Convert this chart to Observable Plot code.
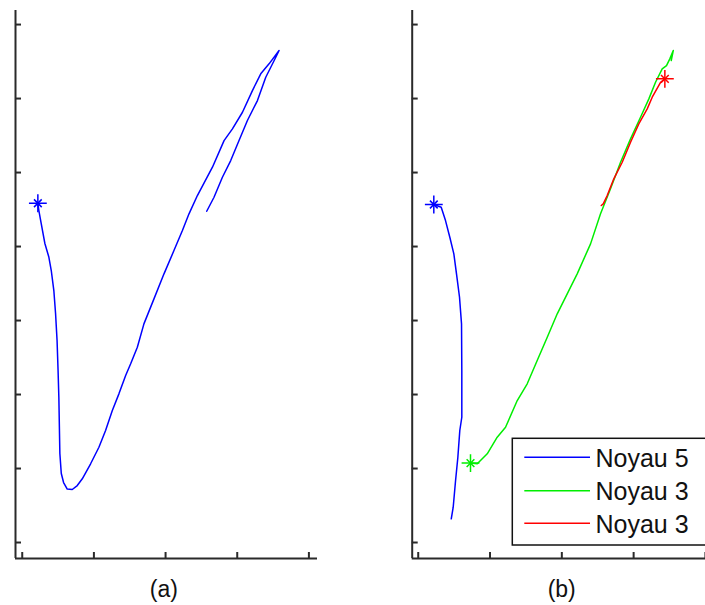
<!DOCTYPE html>
<html>
<head>
<meta charset="utf-8">
<script src="https://cdn.jsdelivr.net/npm/d3@7"></script>
<script src="https://cdn.jsdelivr.net/npm/@observablehq/plot@0.6"></script>
<style>
  html, body { margin: 0; padding: 0; background: #fff; }
  body { width: 705px; height: 605px; overflow: hidden; position: relative; font-family: "Liberation Sans", Arial, sans-serif; }
  .panel { position: absolute; top: 0; }
  .overlay { position: absolute; left: 0; top: 0; pointer-events: none; }
</style>
</head>
<body>
<div id="pa" class="panel" style="left:0px"></div>
<div id="pb" class="panel" style="left:395px"></div>
<script>
// ---------- data (axis-tick units; tick labels are blank in the source) ----------
const xTicks = [0, 1, 2, 3, 4];
const yTicks = [0, 1, 2, 3, 4, 5, 6, 7];
const tickLabels = [];            // axes carry no tick labels
const captions = ["(a)", "(b)"];
const legendLabels = ["Noyau 5", "Noyau 3", "Noyau 3"];
const seriesColors = ["#0000ff", "#00ee00", "#ff0000"];

// panel (a): single trajectory (Noyau 5 continuing)
const aX = [0.218,0.232,0.265,0.316,0.372,0.405,0.441,0.465,0.486,0.500,0.511,0.525,0.545,0.577,0.628,0.698,0.768,0.838,0.954,1.070,1.163,1.257,1.349,1.443,1.513,1.606,1.698,1.838,1.978,2.117,2.235,2.327,2.444,2.654,2.816,2.933,3.073,3.212,3.328,3.444,3.584,3.538,3.468,3.398,3.282,3.142,3.025,2.909,2.793,2.676,2.574];
const aY = [4.585,4.486,4.311,4.041,3.855,3.676,3.405,3.095,2.730,2.324,1.959,1.203,0.932,0.811,0.723,0.716,0.770,0.861,1.064,1.288,1.514,1.784,2.009,2.257,2.415,2.639,2.955,3.293,3.631,3.946,4.216,4.442,4.689,5.072,5.432,5.591,5.815,6.108,6.334,6.469,6.649,6.558,6.423,6.288,5.973,5.703,5.432,5.162,4.936,4.666,4.477];

// panel (b): Noyau 5 (blue)
const bBlueX = [0.217,0.320,0.380,0.440,0.496,0.533,0.575,0.603,0.607,0.607,0.579,0.552,0.520,0.487,0.460];
const bBlueY = [4.568,4.531,4.351,4.126,3.901,3.631,3.315,2.955,2.324,1.693,1.514,1.153,0.838,0.477,0.320];
// panel (b): Noyau 3 (green)
const bGreenX = [0.728,0.822,0.961,1.100,1.216,1.379,1.518,1.657,1.797,1.936,2.028,2.214,2.400,2.539,2.678,2.818,2.957,3.096,3.212,3.305,3.398,3.458,3.504,3.552,3.524];
const bGreenY = [1.074,1.064,1.199,1.423,1.558,1.919,2.145,2.459,2.774,3.091,3.270,3.631,4.036,4.442,4.780,5.139,5.455,5.747,5.996,6.220,6.401,6.446,6.536,6.649,6.514];
// panel (b): Noyau 3 (red)
const bRedX = [3.435,3.375,3.259,3.189,3.072,2.957,2.841,2.724,2.632,2.577,2.549];
const bRedY = [6.266,6.220,6.018,5.861,5.658,5.409,5.139,4.915,4.689,4.577,4.554];

// ---------- helpers ----------
const zip = (xs, ys) => xs.map((x, i) => ({x, y: ys[i]}));
const axisColor = "#2a2a2a";

function star(pt, color) {
  return [
    Plot.dot([pt], {x: "x", y: "y", symbol: "plus", r: 5.8, stroke: color, strokeWidth: 1.5}),
    Plot.dot([pt], {x: "x", y: "y", symbol: "times", r: 3.6, stroke: color, strokeWidth: 1.5})
  ];
}

function axes(xDom, yDom) {
  return [
    Plot.axisX(xTicks, {tickSize: 6, dy: -6, tickFormat: () => "", label: null, stroke: axisColor, strokeWidth: 2}),
    Plot.axisY(yTicks, {tickSize: 6, dx: 6, tickFormat: () => "", label: null, stroke: axisColor, strokeWidth: 2}),
    Plot.ruleY([yDom[0]], {stroke: axisColor, strokeWidth: 2}),
    Plot.ruleX([xDom[0]], {stroke: axisColor, strokeWidth: 2})
  ];
}

// ---------- panel (a) ----------
const xDomA = [-0.094, 4.12];
const yDom = [-0.216, 7.19];
const dataA = zip(aX, aY);
const chartA = Plot.plot({
  width: 330, height: 570,
  marginLeft: 15, marginRight: 13, marginTop: 10, marginBottom: 12,
  x: {domain: xDomA},
  y: {domain: yDom},
  style: {background: "transparent", overflow: "visible"},
  marks: [
    ...axes(xDomA, yDom),
    Plot.line(dataA, {x: "x", y: "y", stroke: seriesColors[0], strokeWidth: 1.5}),
    ...star(dataA[0], seriesColors[0])
  ]
});
document.getElementById("pa").appendChild(chartA);

// ---------- panel (b) ----------
const xDomB = [-0.084, 4.001];
const blue = zip(bBlueX, bBlueY), green = zip(bGreenX, bGreenY), red = zip(bRedX, bRedY);
const chartB = Plot.plot({
  width: 310, height: 570,
  marginLeft: 16.7, marginRight: 0, marginTop: 10, marginBottom: 12,
  x: {domain: xDomB},
  y: {domain: yDom},
  style: {background: "transparent", overflow: "visible"},
  marks: [
    ...axes(xDomB, yDom),
    Plot.line(blue, {x: "x", y: "y", stroke: seriesColors[0], strokeWidth: 1.5}),
    Plot.line(green, {x: "x", y: "y", stroke: seriesColors[1], strokeWidth: 1.5}),
    Plot.line(red, {x: "x", y: "y", stroke: seriesColors[2], strokeWidth: 1.5}),
    ...star(blue[0], seriesColors[0]),
    ...star(green[0], seriesColors[1]),
    ...star(red[0], seriesColors[2])
  ]
});
document.getElementById("pb").appendChild(chartB);

// ---------- captions and legend (overlay) ----------
const ov = d3.select("body").append("svg")
  .attr("class", "overlay").attr("width", 705).attr("height", 605)
  .style("font-family", "'Liberation Sans', Arial, sans-serif");

ov.selectAll("text.cap").data(captions).join("text")
  .attr("class", "cap")
  .attr("x", (d, i) => i === 0 ? 163.8 : 561.7)
  .attr("y", 597)
  .attr("text-anchor", "middle")
  .attr("font-size", 23)
  .attr("fill", "#111")
  .text(d => d);

const lg = ov.append("g");
lg.append("rect").attr("x", 512.3).attr("y", 438.3).attr("width", 260).attr("height", 106.7)
  .attr("fill", "#fff").attr("stroke", "#111").attr("stroke-width", 1.5);
const rowY = [457.3, 490.7, 523.3];
legendLabels.forEach((lab, i) => {
  lg.append("line").attr("x1", 524.3).attr("x2", 590).attr("y1", rowY[i]).attr("y2", rowY[i])
    .attr("stroke", seriesColors[i]).attr("stroke-width", 1.5);
  lg.append("text").attr("x", 595.5).attr("y", rowY[i] + 9.3)
    .attr("font-size", 25).attr("fill", "#111").text(lab);
});
</script>
</body>
</html>
